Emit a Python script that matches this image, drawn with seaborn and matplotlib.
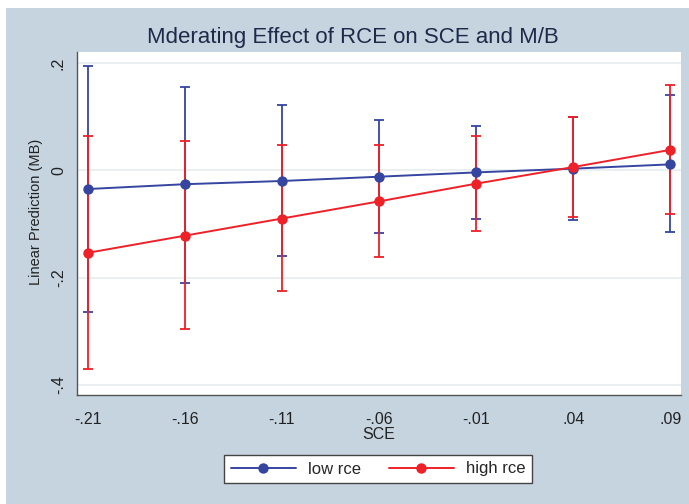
import pandas as pd
import matplotlib.pyplot as plt
import seaborn as sns
from matplotlib.patches import Rectangle

# values (Stata margins plot)
sce = [-0.21, -0.16, -0.11, -0.06, -0.01, 0.04, 0.09]
sce_labels = ["-.21", "-.16", "-.11", "-.06", "-.01", ".04", ".09"]

low_fit = [-0.035, -0.026, -0.020, -0.012, -0.004, 0.003, 0.011]
low_lo = [-0.264, -0.210, -0.160, -0.117, -0.091, -0.093, -0.115]
low_hi = [0.195, 0.156, 0.121, 0.094, 0.082, 0.099, 0.140]

high_fit = [-0.154, -0.122, -0.090, -0.058, -0.025, 0.006, 0.038]
high_lo = [-0.370, -0.296, -0.225, -0.162, -0.113, -0.087, -0.081]
high_hi = [0.064, 0.054, 0.047, 0.047, 0.063, 0.100, 0.159]

y_ticks = [-0.4, -0.2, 0, 0.2]
y_labels = ["-.4", "-.2", "0", ".2"]

groups = ["low rce", "high rce"]
colors = {"low rce": "#3545a0", "high rce": "#ee2028"}

df = pd.DataFrame({
    "SCE": sce * 2,
    "fit": low_fit + high_fit,
    "lo": low_lo + high_lo,
    "hi": low_hi + high_hi,
    "group": ["low rce"] * 7 + ["high rce"] * 7,
})

sns.set_style("white")
plt.rcParams["font.family"] = ["Liberation Sans", "DejaVu Sans"]

bg = "#c6d4e0"
txt = "#222222"
fig = plt.figure(figsize=(6.89, 5.04), dpi=100, facecolor="white")
fig.patches.append(Rectangle((6 / 689, 0), 1, 1 - 8 / 504, transform=fig.transFigure,
                             facecolor=bg, edgecolor="none", zorder=-5))
ax = fig.add_axes([77 / 689, 1 - 395 / 504, 604 / 689, 343 / 504])
ax.set_facecolor("white")

for g in groups:
    d = df[df["group"] == g]
    ax.errorbar(d["SCE"], d["fit"], yerr=[d["fit"] - d["lo"], d["hi"] - d["fit"]],
                fmt="none", ecolor=colors[g], elinewidth=1.3, capsize=3.7, capthick=1.3,
                zorder=2)

sns.lineplot(data=df, x="SCE", y="fit", hue="group", hue_order=groups, palette=colors,
             marker="o", markersize=7.5, markeredgewidth=0, linewidth=1.4, ax=ax, zorder=3)

ax.set_xlim(-0.2155, 0.0955)
ax.set_ylim(-0.419, 0.2205)
ax.set_xticks(sce)
ax.set_xticklabels(sce_labels, fontsize=11.5)
ax.set_yticks(y_ticks)
ax.set_yticklabels(y_labels, fontsize=11.5, rotation=90, va="center")
ax.grid(axis="y", color="#e6eef0", linewidth=1.2)
ax.tick_params(axis="both", direction="out", length=5, width=1, color="#555555",
               labelcolor=txt)
ax.tick_params(axis="x", pad=7)
ax.tick_params(axis="y", pad=3)
for s in ["top", "right"]:
    ax.spines[s].set_visible(False)
for s in ["left", "bottom"]:
    ax.spines[s].set_color("#555555")
    ax.spines[s].set_linewidth(1)

fig.text(353 / 689, 1 - 38 / 504, "Mderating Effect of RCE on SCE and M/B", fontsize=16,
         color="#1e2a4a", ha="center", va="center")
ax.set_xlabel("SCE", fontsize=11.5, labelpad=0, color=txt)
ax.set_ylabel("Linear Prediction (MB)", fontsize=10.5, color=txt)
ax.yaxis.set_label_coords(-0.056, 0.534)

ax.get_legend().remove()
handles, labels = ax.get_legend_handles_labels()
leg = fig.legend(handles[:2], groups, loc="center", bbox_to_anchor=(378 / 689, 1 - 469 / 504),
                 ncol=2, fontsize=12, frameon=True, fancybox=False, handlelength=3.9,
                 handletextpad=0.7, columnspacing=1.7, borderpad=0.4, edgecolor="#444444",
                 facecolor="white", framealpha=1)
leg.get_frame().set_linewidth(1)

fig.savefig("out.png", dpi=100, facecolor=fig.get_facecolor())
